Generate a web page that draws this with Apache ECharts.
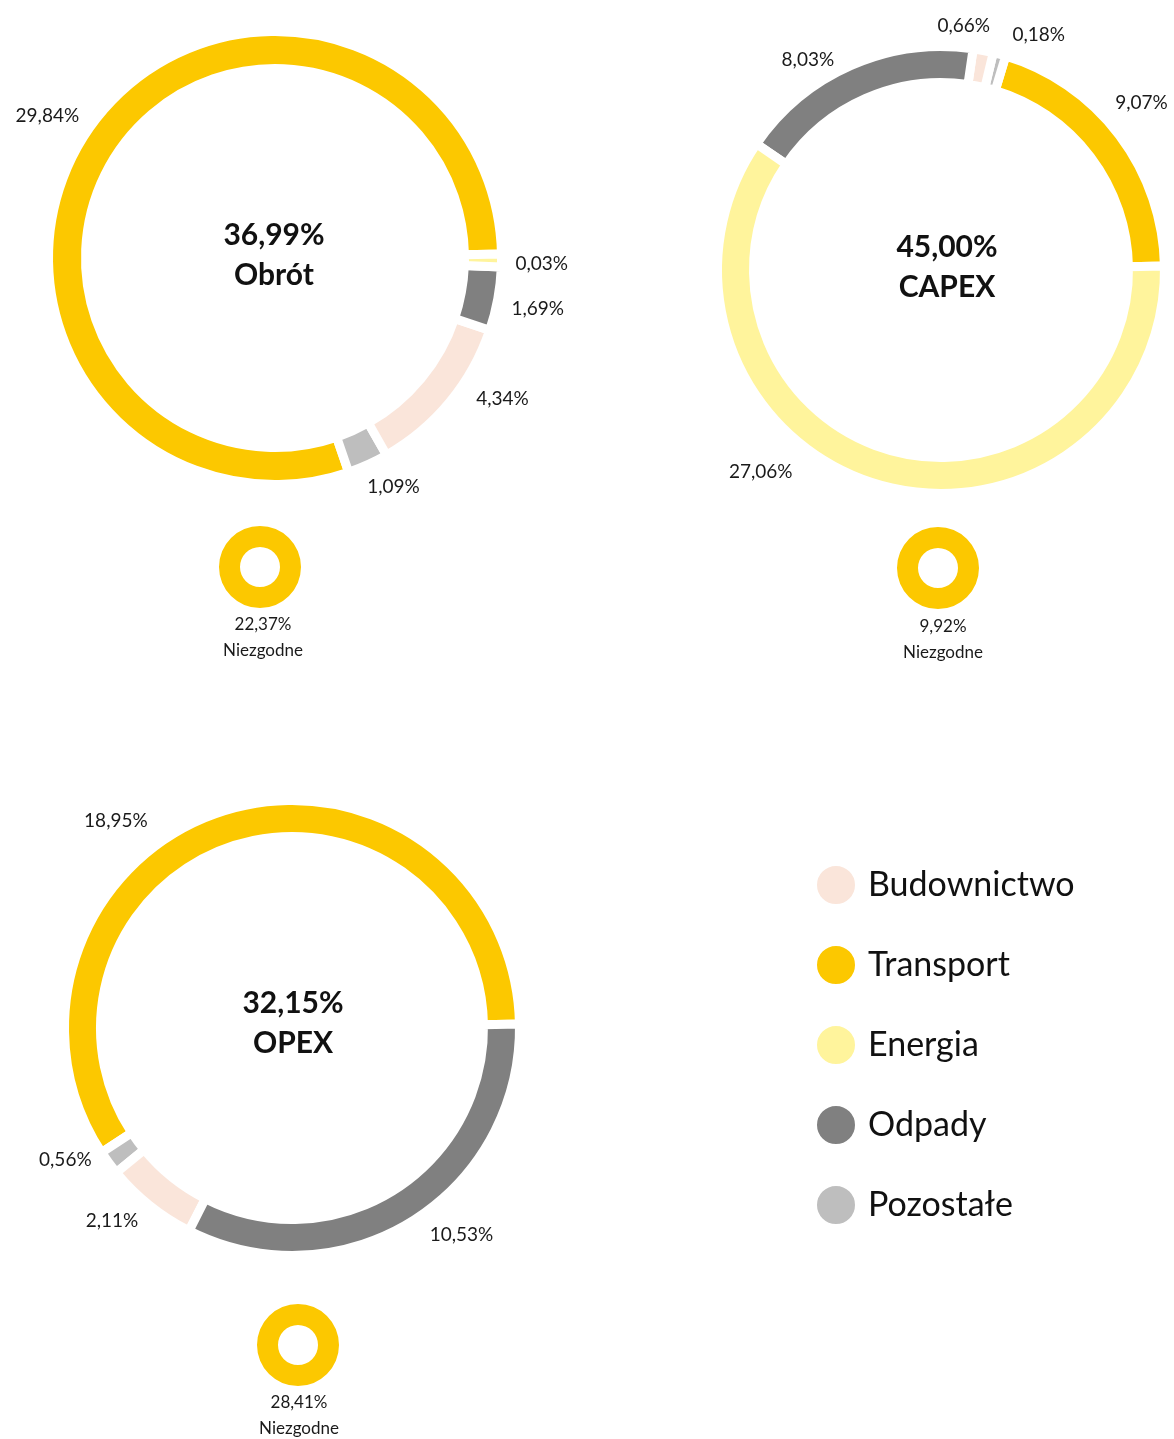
<!DOCTYPE html>
<html>
<head>
<meta charset="utf-8">
<script src="https://cdn.jsdelivr.net/npm/echarts@6/dist/echarts.min.js"></script>
<style>
  html, body { margin: 0; padding: 0; background: #fff; }
  #chart { width: 1174px; height: 1439px; }
</style>
</head>
<body>
<div id="chart"></div>
<script>
// segmenty w kolejnosci przeciwnej do ruchu wskazowek, od godziny 3
const sectors = ['Transport', 'Pozostałe', 'Budownictwo', 'Odpady', 'Energia'];
const obrotValues = [29.84, 1.09, 4.34, 1.69, 0.03];
const capexValues = [9.07, 0.18, 0.66, 8.03, 27.06];
const opexValues = [18.95, 0.56, 2.11, 10.53];  // brak Energii
const niezgodne = [22.37, 9.92, 28.41];
const chartNames = ['Obrót', 'CAPEX', 'OPEX'];
const legendNames = ['Budownictwo', 'Transport', 'Energia', 'Odpady', 'Pozostałe'];

const colors = {
  'Transport': '#FCC800',
  'Pozostałe': '#BEBEBE',
  'Budownictwo': '#FAE5DA',
  'Odpady': '#808080',
  'Energia': '#FFF49C'
};
const FONT = 'Lato, "Open Sans", sans-serif';

// polozenie kazdego wykresu na stronie
const layouts = [
  {center: [275, 258], radius: [189.5, 226.5], title: [274, 215], small: [260, 567], note: [263, 612]},
  {center: [941, 270], radius: [187.5, 223.5], title: [947, 227], small: [938, 568], note: [943, 614]},
  {center: [292, 1028], radius: [191.5, 227.5], title: [293, 983], small: [298, 1345], note: [299, 1390]}
];
// drobne przesuniecia etykiet [dx, dy, align]
const labelNudges = [
  [[7, -4], [-12, 9], [10, -13], [-6, 7], [-6, 3]],
  [[-21, -23], [4, -5], [-1, -10, 'right'], [-6, 8], [-75, -27]],
  [[-68, 25], [0, -12], [3, 4], [4, 1]]
];

function pct(v) {
  return v.toFixed(2).replace('.', ',') + '%';
}

const allValues = [obrotValues, capexValues, opexValues];
const series = [];
const titles = [];

allValues.forEach(function (values, k) {
  const lay = layouts[k];
  const total = values.reduce(function (a, b) { return a + b; }, 0);
  series.push({
    type: 'pie',
    center: lay.center,
    radius: lay.radius,
    startAngle: 1,
    clockwise: false,
    minAngle: 3.3,
    avoidLabelOverlap: false,
    silent: true,
    itemStyle: {borderColor: '#fff', borderWidth: 9},
    label: {
      show: true,
      position: 'outside',
      formatter: function (p) { return pct(p.value); },
      fontFamily: FONT,
      fontSize: 19,
      color: '#1a1a1a'
    },
    labelLine: {show: false, length: 15, length2: 0},
    labelLayout: function (p) {
      const n = labelNudges[k][p.dataIndex];
      const res = {dx: n[0], dy: n[1]};
      if (n[2]) res.align = n[2];
      return res;
    },
    data: values.map(function (v, i) {
      return {name: sectors[i], value: v, itemStyle: {color: colors[sectors[i]]}};
    })
  });
  // mala obwodka - niezgodne
  series.push({
    type: 'pie',
    center: lay.small,
    radius: [20, 41],
    silent: true,
    label: {show: false},
    labelLine: {show: false},
    data: [{name: 'Niezgodne', value: niezgodne[k], itemStyle: {color: colors['Transport']}}]
  });
  titles.push({
    text: pct(total) + '\n' + chartNames[k],
    left: lay.title[0],
    top: lay.title[1],
    textAlign: 'center',
    padding: 0,
    textStyle: {fontFamily: FONT, fontSize: 30, fontWeight: 'bold', lineHeight: 40, color: '#111'}
  });
  titles.push({
    text: pct(niezgodne[k]) + '\nNiezgodne',
    left: lay.note[0],
    top: lay.note[1],
    textAlign: 'center',
    padding: 0,
    textStyle: {fontFamily: FONT, fontSize: 17, fontWeight: 'normal', lineHeight: 26, color: '#1a1a1a'}
  });
});

const chart = echarts.init(document.getElementById('chart'));
chart.setOption({
  animation: false,
  title: titles,
  legend: {
    data: legendNames,
    orient: 'vertical',
    left: 815,
    top: 864,
    padding: 0,
    icon: 'circle',
    itemWidth: 40,
    itemHeight: 40,
    itemGap: 38,
    selectedMode: false,
    textStyle: {fontFamily: FONT, fontSize: 34, lineHeight: 40, color: '#111', padding: [0, 0, 0, 7]}
  },
  series: series
});
</script>
</body>
</html>
